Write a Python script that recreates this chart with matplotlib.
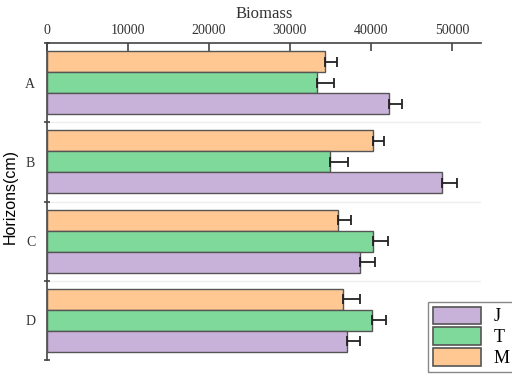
import matplotlib; matplotlib.use("Agg")
import matplotlib.pyplot as plt
import numpy as np
from matplotlib.patches import Patch

groups = ["A", "B", "C", "D"]
J = [42200, 48800, 38700, 37000]
T = [33400, 34900, 40300, 40100]
M = [34300, 40200, 35900, 36600]
J_err = [1700, 1800, 1800, 1600]
T_err = [2000, 2300, 1850, 1800]
M_err = [1550, 1450, 1600, 2050]

c_j, c_t, c_m = "#c9b2da", "#7fd99b", "#ffc892"
serif = ["Liberation Serif", "DejaVu Serif"]

fig = plt.figure(figsize=(5.12, 3.74), dpi=100)
ax = fig.add_axes([47/512, 1-360/374, 434/512, 317/374])
y = np.arange(len(groups))
h = 0.265
for off, vals, err, col in [(-h, M, M_err, c_m), (0, T, T_err, c_t), (h, J, J_err, c_j)]:
    ax.barh(y + off, vals, height=h, color=col, edgecolor="#555555", lw=1, zorder=3)
    ax.errorbar(vals, y + off, xerr=[np.zeros(len(vals)), err], fmt="none",
                ecolor="#222222", elinewidth=1.3, capsize=3.5, capthick=1.3, zorder=4)

ax.set_ylim(3.5, -0.5)
ax.set_xlim(0, 53600)
ax.xaxis.tick_top(); ax.xaxis.set_label_position("top")
ax.set_xticks([0, 10000, 20000, 30000, 40000, 50000])
ax.tick_params(axis="x", direction="in", length=6, width=1.2, color="#444444", pad=4)
for lab in ax.get_xticklabels():
    lab.set_family(serif); lab.set_fontsize(10); lab.set_color("#333333")
ax.set_xlabel("Biomass", family=serif, fontsize=12, color="#333333", labelpad=5)

ax.set_yticks([-0.5, 0.5, 1.5, 2.5, 3.5])
ax.set_yticklabels([])
ax.tick_params(axis="y", which="major", direction="inout", length=5, width=1.2, color="#444444")
ax.set_yticks(y, minor=True)
ax.set_yticklabels(groups, minor=True, family=serif, fontsize=10, color="#333333")
ax.tick_params(axis="y", which="minor", length=0, pad=8.5)
for b in [0.5, 1.5, 2.5]:
    ax.axhline(b, color="#eeeeee", lw=1, zorder=1)
ax.set_ylabel("Horizons(cm)", family=["Liberation Sans", "DejaVu Sans"], fontsize=11.5)
ax.yaxis.set_label_coords(-0.068, 0.515)

for s in ["right", "bottom"]:
    ax.spines[s].set_visible(False)
for s in ["top", "left"]:
    ax.spines[s].set_color("#444444"); ax.spines[s].set_linewidth(1.2)

handles = [Patch(facecolor=c, edgecolor="#555555", lw=1.2) for c in (c_j, c_t, c_m)]
fig.legend(handles, ["J", "T", "M"], loc="upper left", bbox_to_anchor=(428/512, 1-302/374),
           borderaxespad=0, prop={"family": serif, "size": 13}, handlelength=2.7,
           handleheight=1.1, labelspacing=0.12, borderpad=0.25, handletextpad=0.7,
           fancybox=False, edgecolor="#888888", framealpha=1)

fig.savefig("out.png", dpi=100)
